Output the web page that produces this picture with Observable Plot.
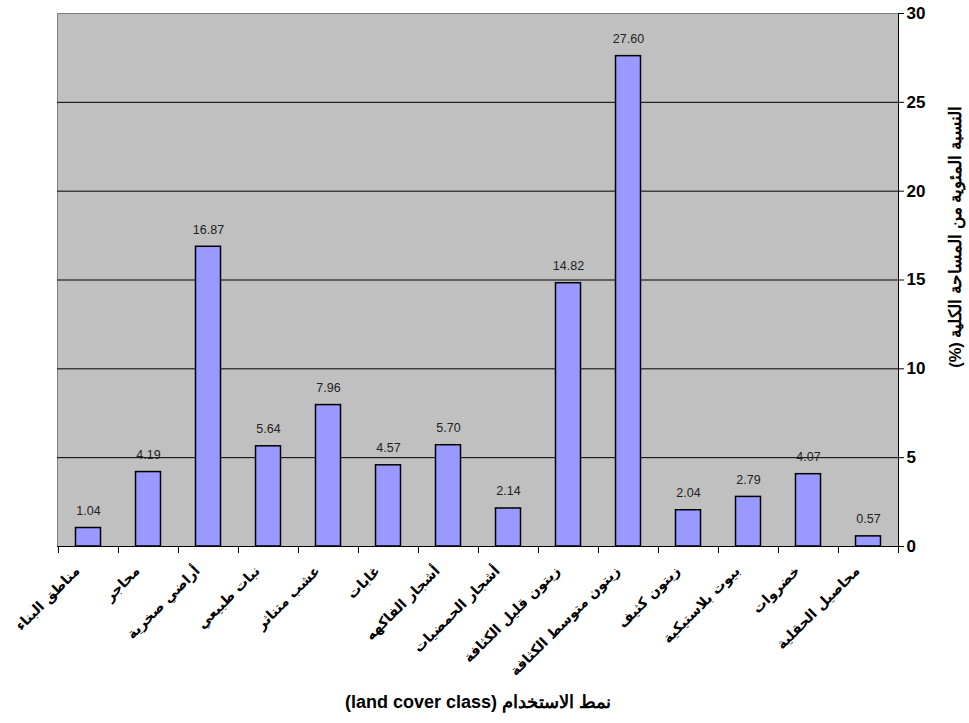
<!DOCTYPE html>
<html>
<head>
<meta charset="utf-8">
<script src="https://cdn.jsdelivr.net/npm/d3@7"></script>
<script src="https://cdn.jsdelivr.net/npm/@observablehq/plot@0.6"></script>
<style>
  html, body { margin: 0; padding: 0; background: #fff; }
  svg { font-family: "Liberation Sans", Arial, sans-serif; }
</style>
</head>
<body>
<div id="chart"></div>
<script>
const categories = [
  "مناطق البناء", "محاجر", "أراضي صخرية", "نبات طبيعي", "عشب متناثر",
  "غابات", "أشجار الفاكهه", "أشجار الحمضيات", "زيتون قليل الكثافة",
  "زيتون متوسط الكثافة", "زيتون كثيف", "بيوت بلاستيكية", "خضروات", "محاصيل الحقلية"
];
const values = [1.04, 4.19, 16.87, 5.64, 7.96, 4.57, 5.70, 2.14, 14.82, 27.60, 2.04, 2.79, 4.07, 0.57];
const yTicks = [0, 5, 10, 15, 20, 25, 30];
const gridLines = [5, 10, 15, 20, 25];
const xTitle = "نمط الاستخدام (land cover class)";
const yTitle = "النسبة المئوية من المساحة الكلية (%)";

// right-to-left embedding so the mixed titles read as in the original
const rtl = s => "\u202B" + s + "\u202C";

const data = categories.map((c, i) => ({category: c, value: values[i]}));

const W = 969, H = 723;
const mL = 57, mR = 71, mT = 13, mB = 177;
const bw = (W - mL - mR) / categories.length;

const chart = Plot.plot({
  width: W,
  height: H,
  marginLeft: mL,
  marginRight: mR,
  marginTop: mT,
  marginBottom: mB,
  style: {fontFamily: '"Liberation Sans", Arial, sans-serif', background: "#fff"},
  x: {type: "band", domain: categories, padding: 0, axis: null},
  y: {domain: [0, 30], axis: null},
  marks: [
    Plot.frame({fill: "#C0C0C0", stroke: "#808080"}),
    Plot.ruleY(gridLines, {stroke: "#000", strokeWidth: 1}),
    Plot.ruleY([0], {stroke: "#000", strokeWidth: 1}),
    Plot.frame({anchor: "right", stroke: "#000"}),
    Plot.barY(data, {x: "category", y: "value", fill: "#9999FF", stroke: "#000", strokeWidth: 1.5, insetLeft: 17.5, insetRight: 17.5}),
    Plot.text(data, {x: "category", y: "value", text: d => d.value.toFixed(2), dy: -17, fontSize: 12.5, fill: "#222"}),
    // category boundary ticks
    Plot.axisX({ticks: categories, tickSize: 7, tickFormat: () => "", dx: -bw / 2, stroke: "#000", label: null}),
    Plot.axisX({ticks: [categories[categories.length - 1]], tickSize: 7, tickFormat: () => "", dx: bw / 2, stroke: "#000", label: null}),
    // rotated category labels
    Plot.axisX({ticks: categories, tickSize: 0, tickRotate: -45, tickPadding: 22, dx: -11, fontSize: 14, fontWeight: "bold", fontFamily: '"DejaVu Sans", sans-serif', fill: "#000", label: null}),
    Plot.axisY({anchor: "right", ticks: yTicks, tickSize: 5, tickPadding: 3, fontSize: 17, fontWeight: "bold", fill: "#000", stroke: "#000", label: null}),
    Plot.text([rtl(xTitle)], {frameAnchor: "bottom", textAnchor: "middle", dy: 161, fontSize: 18, fontWeight: "bold", fill: "#000", style: "letter-spacing:0.6px"}),
    Plot.text([rtl(yTitle)], {frameAnchor: "right", textAnchor: "middle", rotate: -90, dx: 57, dy: -43, fontSize: 16.5, fontWeight: "bold", fill: "#000"})
  ]
});

document.getElementById("chart").appendChild(chart);
</script>
</body>
</html>
